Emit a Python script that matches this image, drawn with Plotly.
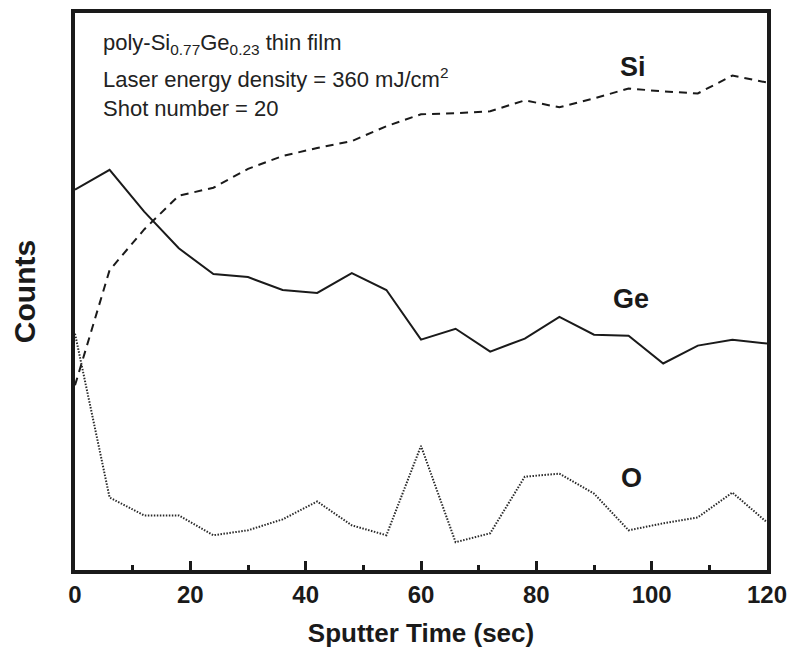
import plotly.graph_objects as go

# Sputter time (s), one depth-profile sample every 6 s
time_s = [0, 6, 12, 18, 24, 30, 36, 42, 48, 54, 60, 66, 72, 78, 84, 90, 96, 102, 108, 114, 120]

# Counts (arbitrary units) for each element
si_counts = [186, 302, 343, 377, 385, 404, 417, 425, 432, 447, 459, 460, 462, 473, 466, 475, 485, 482, 480, 498, 491]
ge_counts = [383, 403, 361, 324, 298, 295, 282, 279, 299, 282, 232, 243, 220, 233, 255, 237, 236, 208, 226, 232, 228]
o_counts = [238, 73, 55, 55, 35, 40, 51, 69, 45, 35, 125, 28, 37, 94, 97, 77, 40, 47, 53, 78, 48]

x_ticks = [0, 20, 40, 60, 80, 100, 120]

FONT = "Liberation Sans, Arial, sans-serif"
INK = "#1a1a1a"

fig = go.Figure()
fig.add_trace(go.Scatter(x=time_s, y=si_counts, mode="lines", name="Si",
                         line=dict(color=INK, width=2, dash="8px,6px")))
fig.add_trace(go.Scatter(x=time_s, y=ge_counts, mode="lines", name="Ge",
                         line=dict(color=INK, width=2)))
fig.add_trace(go.Scatter(x=time_s, y=o_counts, mode="lines", name="O",
                         line=dict(color="#2a2a2a", width=2, dash="1.5px,1.5px")))

# Element labels next to their curves
for txt, xv, yv in [("Si", 96.7, 507), ("Ge", 96.5, 273), ("O", 96.5, 93)]:
    fig.add_annotation(x=xv, y=yv, text=txt, showarrow=False,
                       font=dict(family=FONT, size=27, color=INK, weight="bold"))

# Sample description block
desc = ["poly-Si<sub>0.77</sub>Ge<sub>0.23</sub> thin film",
        "Laser energy density = 360 mJ/cm<sup>2</sup>",
        "Shot number = 20"]
for line, yp in zip(desc, [0.945, 0.884, 0.829]):
    fig.add_annotation(xref="paper", yref="paper", x=0.038, y=yp, text=line,
                       showarrow=False, xanchor="left", yanchor="middle",
                       font=dict(family=FONT, size=22, color="#222"))

fig.update_layout(
    width=797, height=658,
    margin=dict(l=75, r=30, t=9, b=88),
    paper_bgcolor="white", plot_bgcolor="white",
    showlegend=False,
    font=dict(family=FONT, color=INK),
)
fig.update_xaxes(
    range=[0, 120], tickvals=x_ticks, ticktext=[str(v) for v in x_ticks],
    ticks="inside", ticklen=9, tickwidth=3, tickcolor=INK,
    minor=dict(tickvals=[10, 30, 50, 70, 90, 110], ticks="inside", ticklen=5,
               tickwidth=3, tickcolor=INK),
    showline=True, linewidth=4, linecolor=INK, mirror=True,
    showgrid=False, zeroline=False,
    tickfont=dict(family=FONT, size=24, color=INK, weight="bold"),
    title=dict(text="Sputter Time (sec)", standoff=18,
               font=dict(family=FONT, size=26, color=INK, weight="bold")),
)
fig.update_yaxes(
    range=[0, 561], showticklabels=False, ticks="",
    showline=True, linewidth=4, linecolor=INK, mirror=True,
    showgrid=False, zeroline=False,
    title=dict(text="Counts", standoff=28,
               font=dict(family=FONT, size=30, color=INK, weight="bold")),
)

fig.write_html("out.html")
